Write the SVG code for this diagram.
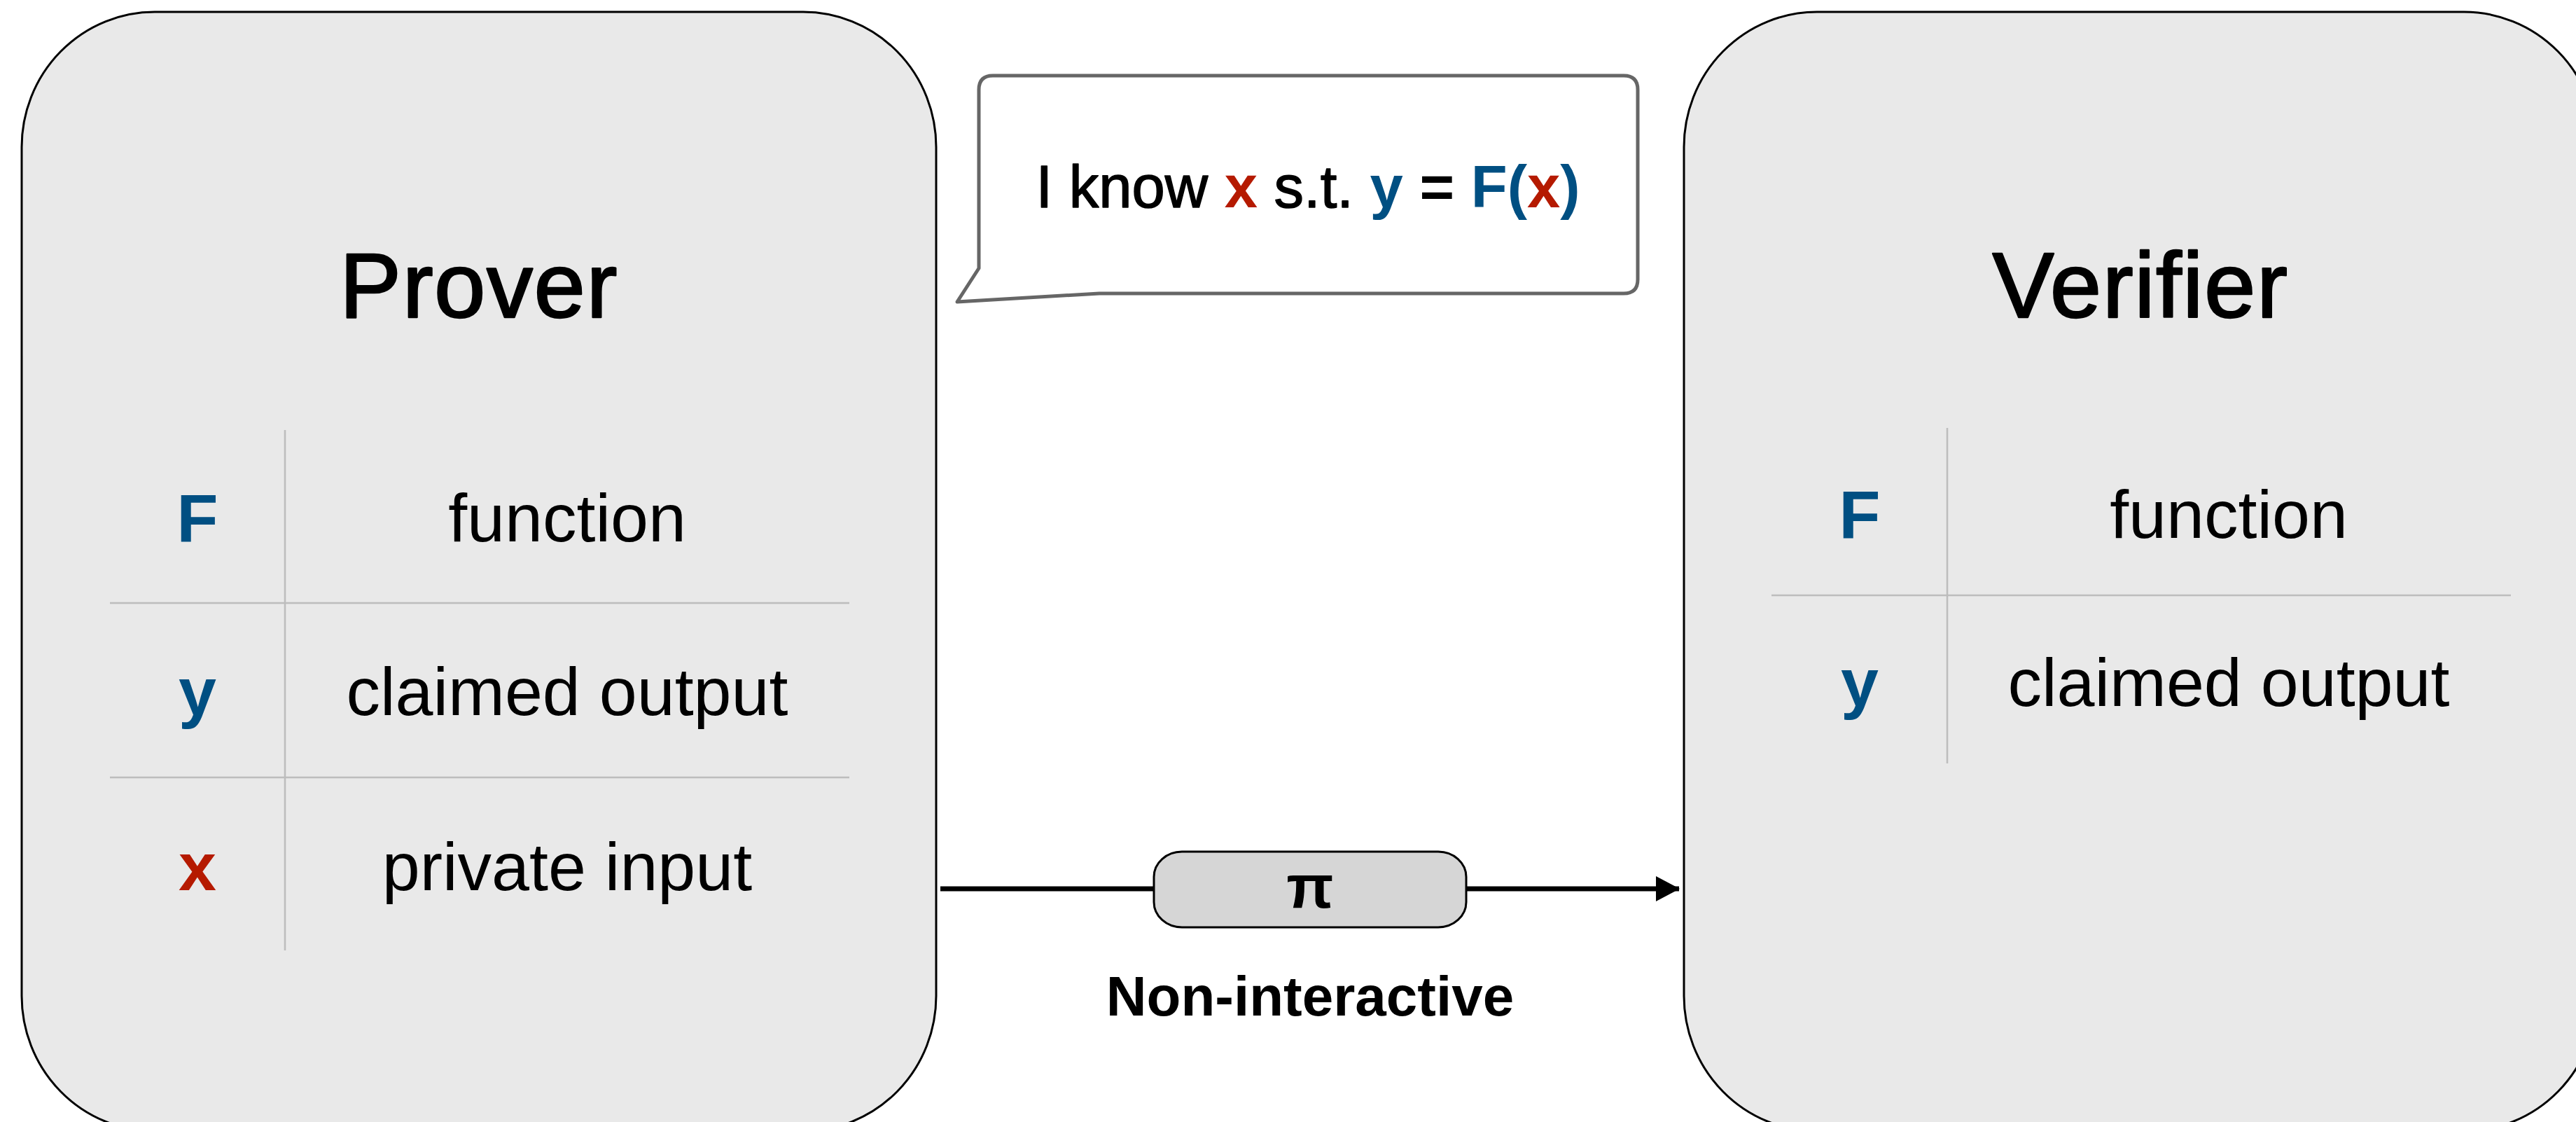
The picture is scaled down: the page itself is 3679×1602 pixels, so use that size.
<svg xmlns="http://www.w3.org/2000/svg" width="3679" height="1602" viewBox="0 0 3679 1602">
<style>
text{font-family:"Liberation Sans",Arial,Helvetica,sans-serif;fill:#000}
.party{fill:#e9e9e9;stroke:#000;stroke-width:3}
.title{font-size:132px;text-anchor:middle;stroke:#000;stroke-width:2.5;stroke-linejoin:round;letter-spacing:1.5px}
.grid{stroke:#bdbdbd;stroke-width:2.5;fill:none}
.sym{font-size:97px;font-weight:bold;text-anchor:middle}
.desc{font-size:97px;text-anchor:middle}
.blue{fill:#004f82}
.red{fill:#b51a00}
.b{font-weight:bold}
.med{stroke:#000;stroke-width:1.5;stroke-linejoin:round}
</style>
<defs>
<marker id="ah" markerWidth="34" markerHeight="36" refX="33" refY="18" orient="auto" markerUnits="userSpaceOnUse">
<path d="M0,0 L34,18 L0,36 Z" fill="#000"/>
</marker>
</defs>
<rect width="3679" height="1602" fill="#fff"/>
<g id="prover">
<rect class="party" x="31" y="17" width="1306" height="1598" rx="190" ry="193"/>
<text class="title" x="684" y="453">Prover</text>
<line class="grid" x1="407" y1="614" x2="407" y2="1357"/>
<line class="grid" x1="157" y1="861" x2="1213" y2="861"/>
<line class="grid" x1="157" y1="1110" x2="1213" y2="1110"/>
<text class="sym blue" x="282" y="773">F</text>
<text class="desc" x="810" y="773">function</text>
<text class="sym blue" x="282" y="1021">y</text>
<text class="desc" x="810" y="1021">claimed output</text>
<text class="sym red" x="282" y="1271">x</text>
<text class="desc" x="810" y="1271">private input</text>
</g>
<g id="verifier">
<rect class="party" x="2405" y="17" width="1304" height="1598" rx="190" ry="193"/>
<text class="title" x="3057" y="453">Verifier</text>
<line class="grid" x1="2781" y1="611" x2="2781" y2="1090"/>
<line class="grid" x1="2530" y1="850" x2="3586" y2="850"/>
<text class="sym blue" x="2656" y="768">F</text>
<text class="desc" x="3183" y="768">function</text>
<text class="sym blue" x="2656" y="1008">y</text>
<text class="desc" x="3183" y="1008">claimed output</text>
</g>
<g id="claim">
<path d="M1418,108 H2319 Q2339,108 2339,128 V399 Q2339,419 2319,419 H1570 L1367,431 L1398,383 V128 Q1398,108 1418,108 Z" fill="#fff" stroke="#666" stroke-width="5" stroke-linejoin="round"/>
<text x="1868" y="296" font-size="85" text-anchor="middle"><tspan class="med">I know </tspan><tspan class="b red">x</tspan><tspan class="med"> s.t. </tspan><tspan class="b blue">y</tspan><tspan class="b"> = </tspan><tspan class="b blue">F(</tspan><tspan class="b red">x</tspan><tspan class="b blue">)</tspan></text>
</g>
<g id="connectors">
<line x1="1343" y1="1269" x2="1648" y2="1269" stroke="#000" stroke-width="7"/>
<line x1="2094" y1="1269" x2="2398" y2="1269" stroke="#000" stroke-width="7" marker-end="url(#ah)"/>
</g>
<g id="proof">
<rect x="1648" y="1216" width="446" height="108" rx="40" ry="36" fill="#d6d6d6" stroke="#000" stroke-width="3"/>
<text x="1871" y="1296" font-size="88" font-weight="bold" text-anchor="middle">π</text>
<text x="1871" y="1450" font-size="80" font-weight="bold" text-anchor="middle">Non-interactive</text>
</g>
</svg>
